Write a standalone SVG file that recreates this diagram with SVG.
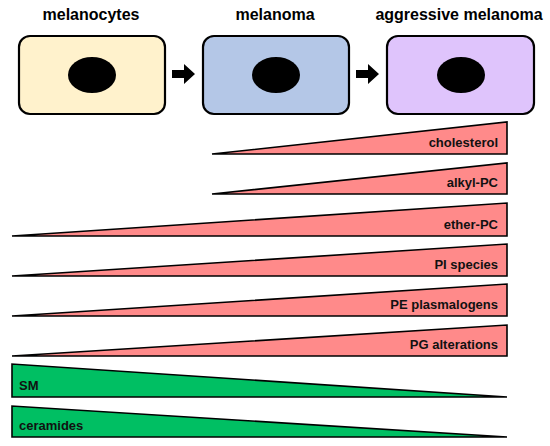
<svg xmlns="http://www.w3.org/2000/svg" width="550" height="446" viewBox="0 0 550 446">
<style>
.title{font-family:"Liberation Sans",Arial,sans-serif;font-weight:700;font-size:16px;fill:#000;text-anchor:middle}
.lbl{font-family:"Liberation Sans",Arial,sans-serif;font-weight:700;font-size:13px;fill:#111}
.r{text-anchor:end}
.cell{stroke:#000;stroke-width:2.2}
.up{fill:#FF8A8A;stroke:#000;stroke-width:1.6;stroke-linejoin:miter}
.down{fill:#00BF63;stroke:#000;stroke-width:1.6}
</style>
<rect width="550" height="446" fill="#fff"/>
<g id="melanocytes">
<rect class="cell" x="19" y="36" width="146" height="78" rx="11" fill="#FFF2CC"/>
<ellipse cx="92" cy="75" rx="24" ry="18" fill="#000"/>
<text class="title" x="91" y="20">melanocytes</text>
</g>
<g id="melanoma">
<rect class="cell" x="203" y="36" width="146" height="78" rx="11" fill="#B4C7E7"/>
<ellipse cx="276" cy="75" rx="24" ry="18" fill="#000"/>
<text class="title" x="275" y="20">melanoma</text>
</g>
<g id="aggressive">
<rect class="cell" x="387" y="36" width="147" height="78" rx="11" fill="#DFC4FC"/>
<ellipse cx="461" cy="75" rx="24" ry="18" fill="#000"/>
<text class="title" x="459" y="20">aggressive melanoma</text>
</g>
<g id="connectors">
<polygon points="172,70 184,70 184,64 195,74 184,84 184,78 172,78" fill="#000"/>
<polygon points="356,70 368,70 368,64 379,74 368,84 368,78 356,78" fill="#000"/>
</g>
<g id="cholesterol">
<polygon class="up" points="212,154 507,122 507,154"/>
<text class="lbl r" x="498" y="147">cholesterol</text>
</g>
<g id="alkyl-PC">
<polygon class="up" points="212,194 507,163 507,194"/>
<text class="lbl r" x="498" y="187">alkyl-PC</text>
</g>
<g id="ether-PC">
<polygon class="up" points="12,236 507,203 507,236"/>
<text class="lbl r" x="498" y="229">ether-PC</text>
</g>
<g id="PI">
<polygon class="up" points="12,276 507,244 507,276"/>
<text class="lbl r" x="498" y="269">PI species</text>
</g>
<g id="PE">
<polygon class="up" points="12,316 507,284 507,316"/>
<text class="lbl r" x="498" y="309">PE plasmalogens</text>
</g>
<g id="PG">
<polygon class="up" points="12,356 507,325 507,356"/>
<text class="lbl r" x="498" y="349">PG alterations</text>
</g>
<g id="SM">
<polygon class="down" points="12,364 12,397 507,397"/>
<text class="lbl" x="19" y="390">SM</text>
</g>
<g id="ceramides">
<polygon class="down" points="12,406 12,437 507,437"/>
<text class="lbl" x="19" y="430">ceramides</text>
</g>
</svg>
